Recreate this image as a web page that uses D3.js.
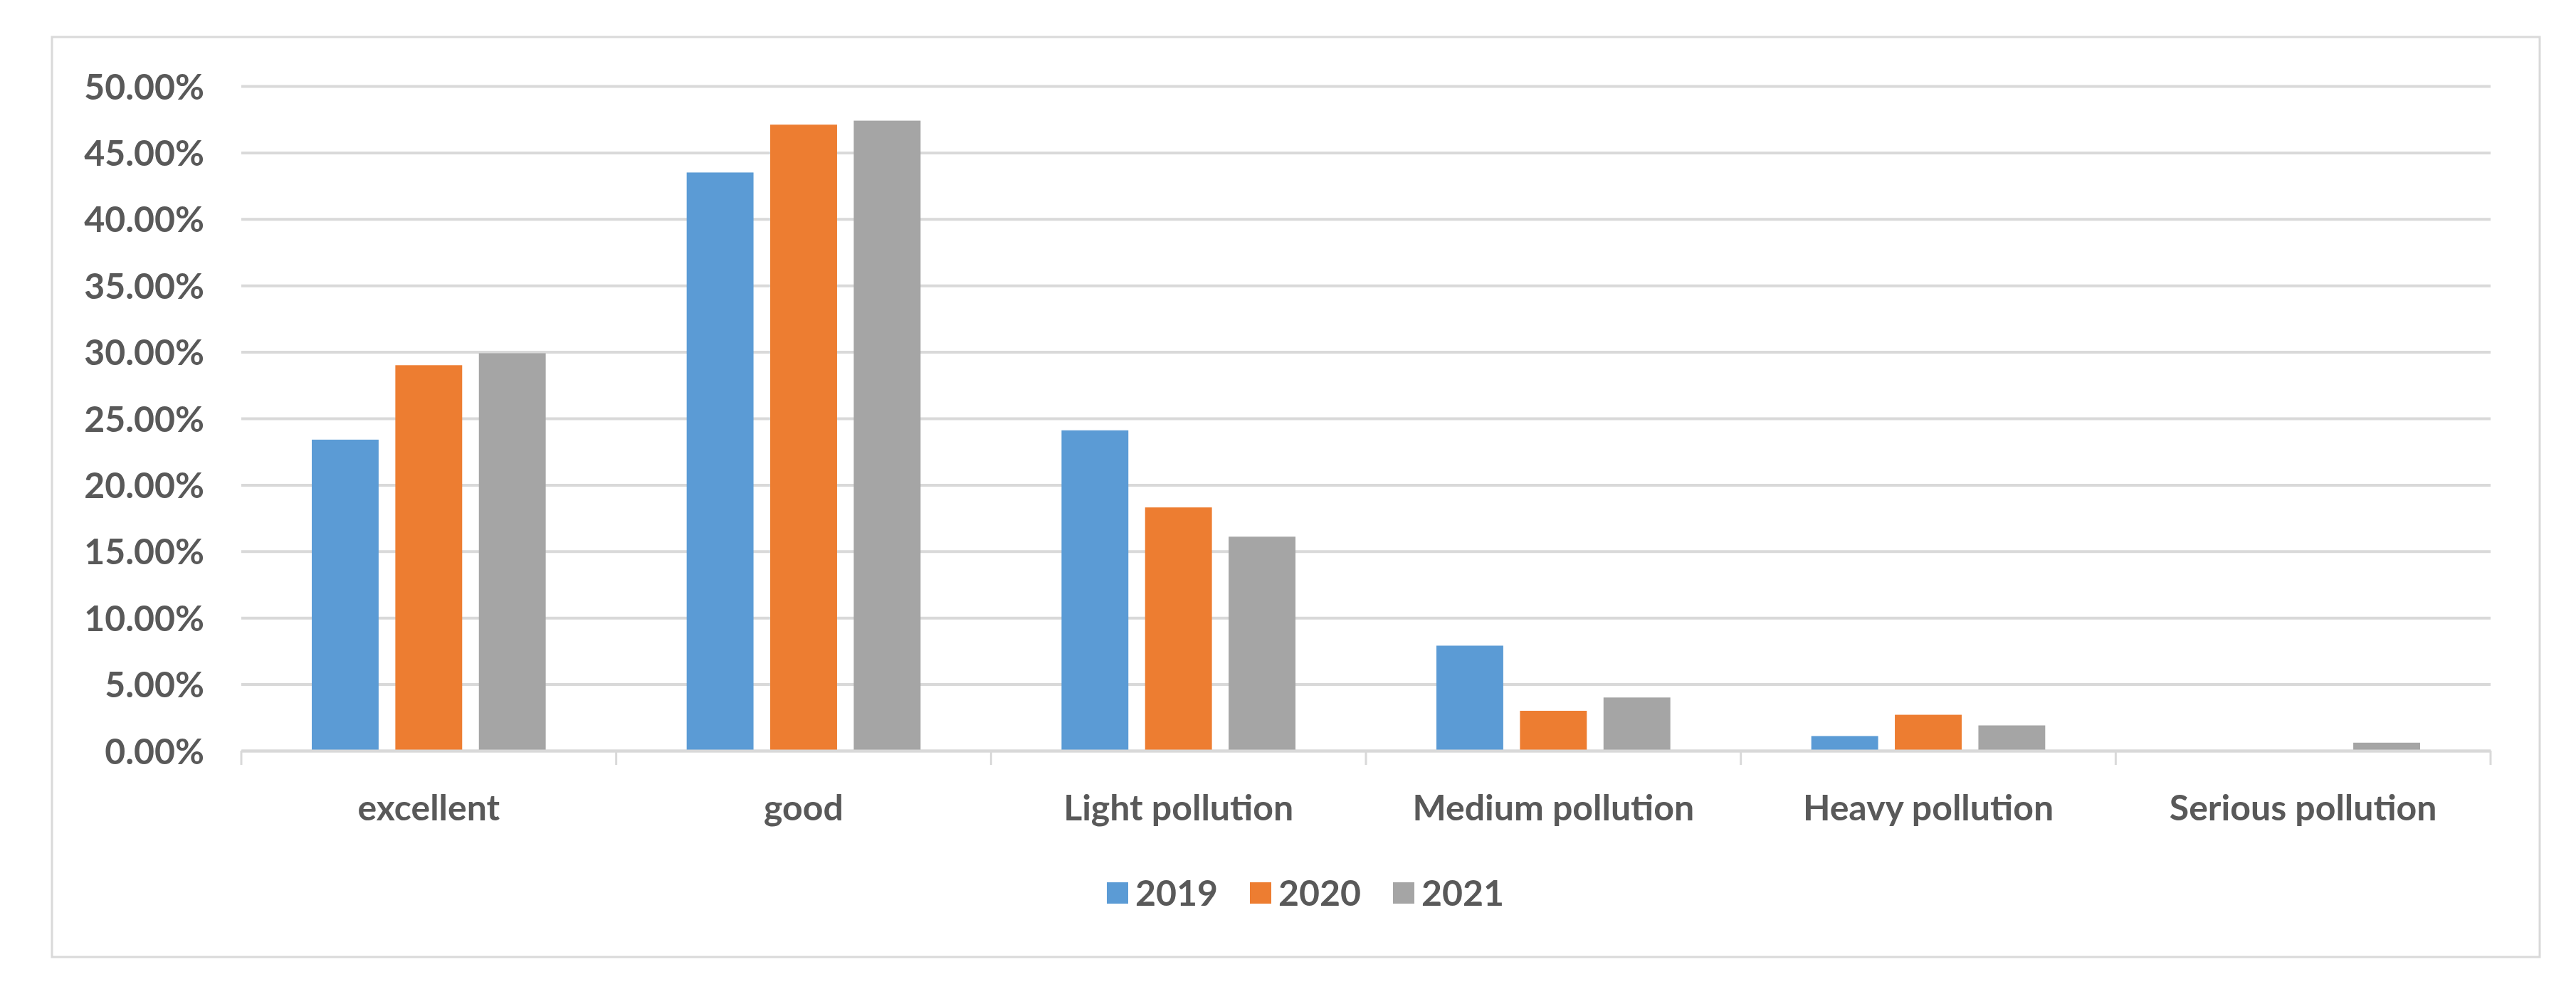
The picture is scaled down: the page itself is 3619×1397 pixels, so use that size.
<!DOCTYPE html>
<html>
<head>
<meta charset="utf-8">
<script src="https://cdn.jsdelivr.net/npm/d3@7"></script>
<style>
  body { margin: 0; background: #ffffff; }
  text { font-family: Lato, "Open Sans", sans-serif; font-weight: bold; fill: #595959; }
</style>
</head>
<body>
<div id="graph"></div>
<script>
const categories = ["excellent", "good", "Light pollution", "Medium pollution", "Heavy pollution", "Serious pollution"];
const years = ["2019", "2020", "2021"];
const values2019 = [0.234, 0.435, 0.241, 0.079, 0.011, 0.0];
const values2020 = [0.290, 0.471, 0.183, 0.030, 0.027, 0.0];
const values2021 = [0.299, 0.474, 0.161, 0.040, 0.019, 0.006];
const yTicks = [0, 0.05, 0.10, 0.15, 0.20, 0.25, 0.30, 0.35, 0.40, 0.45, 0.50];
const colors = ["#5B9BD5", "#ED7D31", "#A5A5A5"];

const seriesValues = [values2019, values2020, values2021];

const length = 3619;
const breadth = 1397;
const plotLeft = 339, plotRight = 3499, plotTop = 121, plotBottom = 1055;

const svg = d3.select("#graph")
    .append("svg")
    .attr("width", length)
    .attr("height", breadth);

svg.append("rect")
    .attr("width", length)
    .attr("height", breadth)
    .attr("fill", "#ffffff");

// chart area border
svg.append("rect")
    .attr("x", 73)
    .attr("y", 52)
    .attr("width", 3568 - 73)
    .attr("height", 1345 - 52)
    .attr("fill", "none")
    .attr("stroke", "#d9d9d9")
    .attr("stroke-width", 3);

const yScale = d3.scaleLinear()
    .domain([0, 0.5])
    .range([plotBottom, plotTop]);

const xScale = d3.scaleBand()
    .domain(categories)
    .range([plotLeft, plotRight]);

const innerScale = d3.scaleBand()
    .domain(years)
    .range([0.188 * xScale.bandwidth(), 0.812 * xScale.bandwidth()])
    .paddingInner(0.2);

// gridlines + y labels
const yAxis = d3.axisLeft(yScale)
    .tickValues(yTicks)
    .tickFormat(d3.format(".2%"))
    .tickSize(-(plotRight - plotLeft))
    .tickPadding(52);

const yG = svg.append("g")
    .attr("transform", "translate(" + plotLeft + ",0)")
    .call(yAxis);
yG.select(".domain").remove();
yG.selectAll(".tick line")
    .attr("stroke", "#d9d9d9")
    .attr("stroke-width", 4);
yG.selectAll(".tick text")
    .style("font-size", "50px")
    .attr("dy", "0.36em");

// bars
years.forEach((yr, s) => {
    svg.append("g")
        .selectAll("rect")
        .data(seriesValues[s])
        .enter()
        .append("rect")
        .attr("x", (d, i) => xScale(categories[i]) + innerScale(yr))
        .attr("y", (d) => yScale(d))
        .attr("width", innerScale.bandwidth())
        .attr("height", (d) => plotBottom - yScale(d))
        .attr("fill", colors[s]);
});

// x axis
const xAxis = d3.axisBottom(xScale).tickSize(0).tickPadding(62);
const xG = svg.append("g")
    .attr("transform", "translate(0," + plotBottom + ")")
    .call(xAxis);
xG.select(".domain")
    .attr("stroke", "#d9d9d9")
    .attr("stroke-width", 4);
xG.selectAll(".tick text")
    .style("font-size", "50px");

// band boundary tick marks
const boundaries = categories.map((c) => xScale(c)).concat([plotRight]);
svg.append("g")
    .selectAll("line")
    .data(boundaries)
    .enter()
    .append("line")
    .attr("x1", (d) => d)
    .attr("x2", (d) => d)
    .attr("y1", plotBottom)
    .attr("y2", plotBottom + 20)
    .attr("stroke", "#d9d9d9")
    .attr("stroke-width", 3);

// legend
const legend = svg.append("g");
const legendY = 1255;
let lx = 0;
years.forEach((yr, s) => {
    const item = legend.append("g").attr("transform", "translate(" + lx + ",0)");
    item.append("rect")
        .attr("x", 0)
        .attr("y", legendY - 15)
        .attr("width", 30)
        .attr("height", 30)
        .attr("fill", colors[s]);
    const t = item.append("text")
        .attr("x", 40)
        .attr("y", legendY)
        .attr("dy", "0.36em")
        .style("font-size", "50px")
        .text(yr);
    lx += 40 + t.node().getComputedTextLength() + 45;
});
const legendWidth = lx - 45;
legend.attr("transform", "translate(" + (1834 - legendWidth / 2) + ",0)");
</script>
</body>
</html>
